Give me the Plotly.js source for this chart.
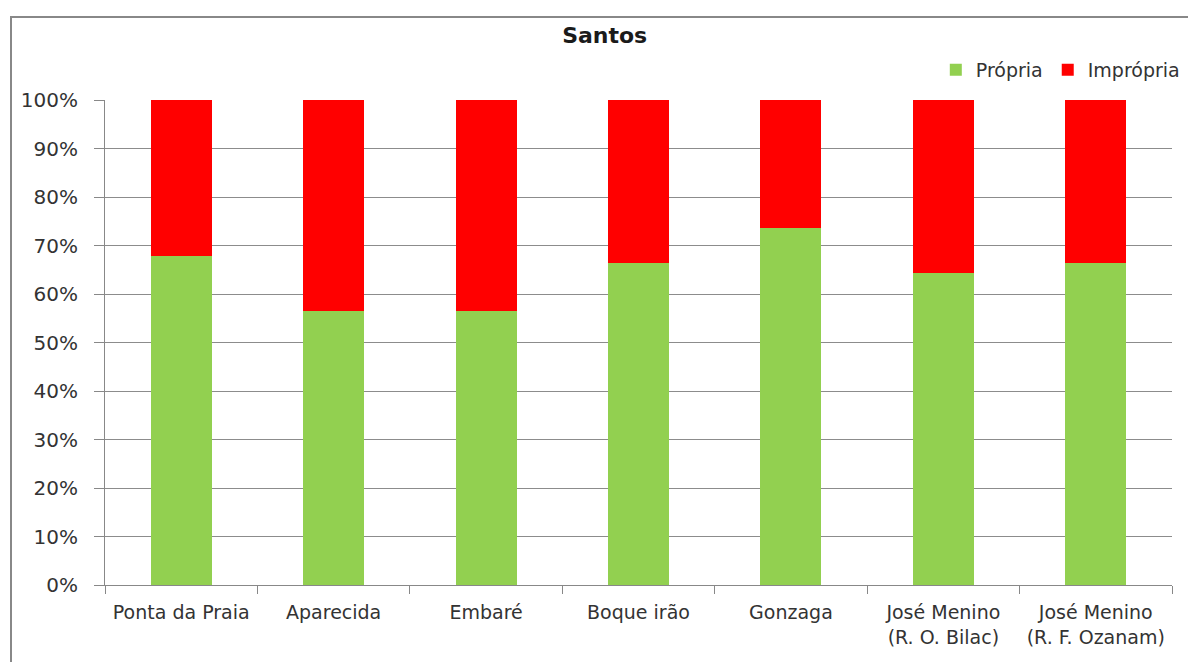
<!DOCTYPE html>
<html>
<head>
<meta charset="utf-8">
<script src="https://cdn.plot.ly/plotly-3.0.1.min.js"></script>
<style>html,body{margin:0;padding:0;background:#fff;}#chart{width:1188px;height:662px;}</style>
</head>
<body>
<div id="chart"></div>
<script>
const categories = ["Ponta da Praia", "Aparecida", "Embaré", "Boque irão", "Gonzaga", "José Menino<br>(R. O. Bilac)", "José Menino<br>(R. F. Ozanam)"];
const propria = [67.8, 56.5, 56.5, 66.4, 73.7, 64.3, 66.3];
const impropria = propria.map(v => 100 - v);
const yTicks = [0, 10, 20, 30, 40, 50, 60, 70, 80, 90, 100];
const yTickLabels = yTicks.map(v => v + "%");

const font = "'DejaVu Sans', 'Open Sans', sans-serif";
const traces = [
  {type: "bar", name: "Própria", x: categories, y: propria, width: 0.4,
   marker: {color: "#92D050"}, hoverinfo: "skip"},
  {type: "bar", name: "Imprópria", x: categories, y: impropria, width: 0.4,
   marker: {color: "#FF0000"}, hoverinfo: "skip"}
];
const layout = {
  width: 1188, height: 662,
  margin: {l: 105, r: 16, t: 100, b: 77, autoexpand: false},
  paper_bgcolor: "#fff", plot_bgcolor: "#fff",
  barmode: "stack",
  showlegend: true,
  font: {family: font, color: "#333", size: 18},
  title: {text: "<b>Santos</b>", x: 0.509, xanchor: "center", y: 0.947, yanchor: "middle",
          yref: "container", font: {family: font, size: 22, color: "#1a1a1a"}},
  legend: {orientation: "h", x: 1.012, xanchor: "right", y: 1.062, yanchor: "middle",
           font: {family: font, size: 19, color: "#333"}, bgcolor: "rgba(0,0,0,0)",
           traceorder: "normal", itemwidth: 30},
  xaxis: {type: "category", tickson: "boundaries", ticks: "outside", ticklen: 8,
          tickcolor: "#888", showline: true, linecolor: "#888", linewidth: 1,
          showgrid: false, tickfont: {family: font, size: 19, color: "#333"},
          ticklabelstandoff: 10, automargin: false,
          range: [-0.5, 6.5], fixedrange: true},
  yaxis: {range: [0, 100], tickvals: yTicks, ticktext: yTickLabels,
          ticks: "outside", ticklen: 10, tickcolor: "#888",
          showline: true, linecolor: "#888", linewidth: 1,
          showgrid: true, gridcolor: "#8c8c8c", gridwidth: 1, zeroline: false,
          ticklabelstandoff: 12, automargin: false,
          tickfont: {family: font, size: 20, color: "#333"}, fixedrange: true},
  shapes: [
    {type: "rect", xref: "paper", yref: "paper", x0: -0.0881, x1: 1.05, y0: -0.3, y1: 1.171,
     line: {color: "#888", width: 2}, fillcolor: "rgba(0,0,0,0)", layer: "below"}
  ]
};
Plotly.newPlot("chart", traces, layout, {displayModeBar: false, staticPlot: true});
</script>
</body>
</html>
